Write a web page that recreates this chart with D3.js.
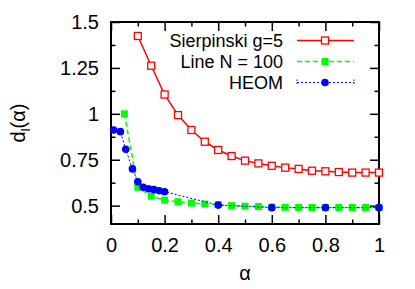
<!DOCTYPE html>
<html>
  <head>
    <meta charset="utf-8"/>
    <script src="https://cdnjs.cloudflare.com/ajax/libs/d3/7.8.5/d3.min.js"></script>
    <style>
      body { margin: 0; background: #fff; }
      text { font-family: "Liberation Sans", Arial, sans-serif; font-size: 20px; fill: #000; }
      .tick line { stroke: #000; stroke-width: 1.5px; }
    </style>
  </head>
  <body>
    <script>

      // Sierpinski g=5
      var sierX = [0.1, 0.15, 0.2, 0.25, 0.3, 0.35, 0.4, 0.45, 0.5, 0.55, 0.6, 0.65, 0.7, 0.75, 0.8, 0.85, 0.9, 0.95, 1.0];
      var sierY = [1.424, 1.262, 1.105, 0.993, 0.912, 0.848, 0.803, 0.77, 0.745, 0.73, 0.717, 0.707, 0.70, 0.69, 0.687, 0.683, 0.68, 0.68, 0.68];

      // Line N = 100
      var lineX = [0.05, 0.1, 0.15, 0.2, 0.25, 0.3, 0.35, 0.4, 0.45, 0.5, 0.55, 0.6, 0.65, 0.7, 0.75, 0.8, 0.85, 0.9, 0.95, 1.0];
      var lineY = [1.0, 0.60, 0.551, 0.53, 0.521, 0.514, 0.509, 0.505, 0.50, 0.497, 0.495, 0.492, 0.491, 0.49, 0.49, 0.49, 0.49, 0.49, 0.49, 0.49];

      // HEOM
      var heomX = [0.01, 0.035, 0.055, 0.08, 0.1, 0.12, 0.14, 0.16, 0.18, 0.2, 0.4, 0.6, 0.8, 1.0];
      var heomY = [0.912, 0.903, 0.807, 0.70, 0.63, 0.60, 0.592, 0.587, 0.581, 0.576, 0.503, 0.489, 0.489, 0.489];
      var heomErr = [0.01, 0.01, 0.012, 0.012, 0.012, 0.008, 0.008, 0.008, 0.008, 0.008, 0.005, 0.005, 0.005, 0.005];

      var xMajor = [0, 0.2, 0.4, 0.6, 0.8, 1];
      var xMinor = [0.1, 0.3, 0.5, 0.7, 0.9];
      var yMajor = [0.5, 0.75, 1, 1.25, 1.5];
      var yMinor = [0.625, 0.875, 1.125, 1.375];

      var legendLabels = ["Sierpinski g=5", "Line N = 100", "HEOM"];

      var outerWidth = 415, outerHeight = 289;
      var margin = { left: 111, top: 22, right: 36, bottom: 65 };
      var width = outerWidth - margin.left - margin.right;
      var height = outerHeight - margin.top - margin.bottom;

      var svg = d3.select("body").append("svg")
        .attr("width", outerWidth)
        .attr("height", outerHeight);

      var g = svg.append("g").attr("transform", "translate(" + margin.left + "," + margin.top + ")");

      var xScale = d3.scaleLinear().domain([0, 1]).range([0, width]);
      var yScale = d3.scaleLinear().domain([0.4, 1.5]).range([height, 0]);

      function fmt(d) { return String(d); }

      // axes, ticks pointing inward, mirrored on top and right
      function addAxis(axis, tr) {
        var a = g.append("g").attr("transform", tr).call(axis);
        a.select(".domain").remove();
        return a;
      }
      addAxis(d3.axisBottom(xScale).tickValues(xMajor).tickSize(-9).tickPadding(14).tickFormat(fmt), "translate(0," + height + ")");
      addAxis(d3.axisBottom(xScale).tickValues(xMinor).tickSize(-4.5).tickFormat(""), "translate(0," + height + ")");
      addAxis(d3.axisTop(xScale).tickValues(xMajor).tickSize(-9).tickFormat(""), "translate(0,0)");
      addAxis(d3.axisTop(xScale).tickValues(xMinor).tickSize(-4.5).tickFormat(""), "translate(0,0)");
      addAxis(d3.axisLeft(yScale).tickValues(yMajor).tickSize(-9).tickPadding(12).tickFormat(fmt), "translate(0,0)");
      addAxis(d3.axisLeft(yScale).tickValues(yMinor).tickSize(-4.5).tickFormat(""), "translate(0,0)");
      addAxis(d3.axisRight(yScale).tickValues(yMajor).tickSize(-9).tickFormat(""), "translate(" + width + ",0)");
      addAxis(d3.axisRight(yScale).tickValues(yMinor).tickSize(-4.5).tickFormat(""), "translate(" + width + ",0)");

      g.selectAll(".tick text")
        .style("font-family", "'Liberation Sans', Arial, sans-serif")
        .style("font-size", "20px")
        .attr("fill", "#000");

      g.append("rect")
        .attr("width", width).attr("height", height)
        .attr("fill", "none").attr("stroke", "#000").attr("stroke-width", 2);

      // axis titles
      svg.append("text")
        .attr("x", margin.left + width / 2).attr("y", 280)
        .attr("text-anchor", "middle")
        .text("α");

      var yl = svg.append("text")
        .attr("transform", "translate(25," + (margin.top + height / 2) + ") rotate(-90)")
        .attr("text-anchor", "middle");
      yl.append("tspan").text("d");
      yl.append("tspan").attr("dy", 5).style("font-size", "13px").text("l");
      yl.append("tspan").attr("dy", -5).text("(α)");

      var line = d3.line()
        .x(function (d) { return xScale(d[0]); })
        .y(function (d) { return yScale(d[1]); });

      var sier = sierX.map(function (x, i) { return [x, sierY[i]]; });
      var lin = lineX.map(function (x, i) { return [x, lineY[i]]; });
      var heom = heomX.map(function (x, i) { return [x, heomY[i], heomErr[i]]; });

      // Line N = 100
      g.append("path").datum(lin).attr("d", line)
        .attr("fill", "none").attr("stroke", "#00ff00").attr("stroke-width", 1.5)
        .attr("stroke-dasharray", "5,3");
      g.selectAll(".lin").data(lin).enter().append("rect")
        .attr("x", function (d) { return xScale(d[0]) - 3.5; })
        .attr("y", function (d) { return yScale(d[1]) - 3.5; })
        .attr("width", 7).attr("height", 7)
        .attr("fill", "#00ff00");

      // Sierpinski
      g.append("path").datum(sier).attr("d", line)
        .attr("fill", "none").attr("stroke", "#ff0000").attr("stroke-width", 1.5);
      g.selectAll(".sier").data(sier).enter().append("rect")
        .attr("x", function (d) { return xScale(d[0]) - 3.5; })
        .attr("y", function (d) { return yScale(d[1]) - 3.5; })
        .attr("width", 7).attr("height", 7)
        .attr("fill", "#fff").attr("stroke", "#ff0000").attr("stroke-width", 1.3);

      // HEOM with error bars
      g.append("path").datum(heom).attr("d", line)
        .attr("fill", "none").attr("stroke", "#0000ff").attr("stroke-width", 1)
        .attr("stroke-dasharray", "2,2");
      var eb = g.selectAll(".eb").data(heom).enter().append("g");
      eb.append("line")
        .attr("x1", function (d) { return xScale(d[0]); })
        .attr("x2", function (d) { return xScale(d[0]); })
        .attr("y1", function (d) { return yScale(d[1] - d[2]); })
        .attr("y2", function (d) { return yScale(d[1] + d[2]); })
        .attr("stroke", "#0000ff").attr("stroke-width", 1);
      eb.append("circle")
        .attr("cx", function (d) { return xScale(d[0]); })
        .attr("cy", function (d) { return yScale(d[1]); })
        .attr("r", 3.8)
        .attr("fill", "#0000ff");

      // legend
      var legY = [40.5, 61.5, 82.5];
      var leg = svg.append("g");
      legendLabels.forEach(function (t, i) {
        leg.append("text").attr("x", 283).attr("y", legY[i] + 6.5)
          .attr("text-anchor", "end").style("font-size", "18px").text(t);
      });
      leg.append("line").attr("x1", 297).attr("x2", 354).attr("y1", legY[0]).attr("y2", legY[0])
        .attr("stroke", "#ff0000").attr("stroke-width", 1.5);
      leg.append("rect").attr("x", 321.5).attr("y", legY[0] - 3.5).attr("width", 7).attr("height", 7)
        .attr("fill", "#fff").attr("stroke", "#ff0000").attr("stroke-width", 1.3);
      leg.append("line").attr("x1", 297).attr("x2", 354).attr("y1", legY[1]).attr("y2", legY[1])
        .attr("stroke", "#00ff00").attr("stroke-width", 1.5).attr("stroke-dasharray", "5,3");
      leg.append("rect").attr("x", 321.5).attr("y", legY[1] - 3.5).attr("width", 7).attr("height", 7)
        .attr("fill", "#00ff00");
      leg.append("line").attr("x1", 297).attr("x2", 354).attr("y1", legY[2]).attr("y2", legY[2])
        .attr("stroke", "#0000ff").attr("stroke-width", 1).attr("stroke-dasharray", "2,2");
      [297, 354].forEach(function (x) {
        leg.append("line").attr("x1", x).attr("x2", x).attr("y1", legY[2] - 3).attr("y2", legY[2] + 3)
          .attr("stroke", "#0000ff").attr("stroke-width", 1).attr("stroke-dasharray", "1.5,1.5");
      });
      leg.append("circle").attr("cx", 325).attr("cy", legY[2]).attr("r", 3.8).attr("fill", "#0000ff");

    </script>
  </body>
</html>
